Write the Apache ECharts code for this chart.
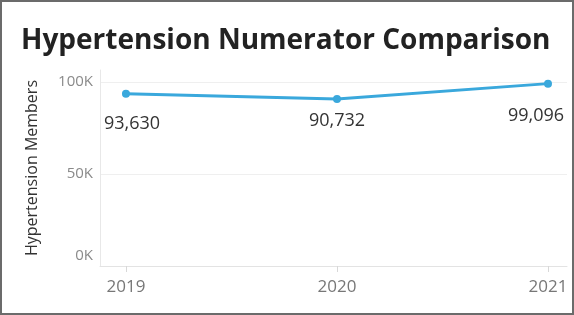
<!DOCTYPE html>
<html>
<head>
<meta charset="utf-8">
<script src="https://cdn.jsdelivr.net/npm/echarts@6/dist/echarts.min.js"></script>
<style>
  html, body { margin: 0; padding: 0; background: #fff; }
  #chart { width: 574px; height: 315px; box-sizing: border-box; border: 2px solid #6b6b6b; }
</style>
</head>
<body>
<div id="chart"></div>
<script>
// values
const years = [2019, 2020, 2021];
const members = [93630, 90732, 99096];
const yTicks = [0, 50000, 100000];

// per-point label nudges (Tableau places them a bit unevenly)
const labelNudge = [[6, 0], [0, -8], [-12, 2]];

const chart = echarts.init(document.getElementById('chart'));

const fmt = (v) => v.toLocaleString('en-US');

chart.setOption({
  animation: false,
  textStyle: { fontFamily: 'Open Sans' },
  title: {
    text: 'Hypertension Numerator Comparison',
    left: 14,
    top: 20,
    textStyle: { fontFamily: 'Open Sans', fontWeight: 'bold', fontSize: 28, color: '#222' }
  },
  grid: { left: 98, right: 5, top: 68, bottom: 47 },
  xAxis: {
    type: 'value',
    min: 2018.877,
    max: 2021.09,
    axisLine: { show: true, lineStyle: { color: '#e3e3e3' } },
    axisTick: { show: true, customValues: years, length: 6, lineStyle: { color: '#d8d8d8' } },
    axisLabel: { customValues: years, margin: 13, fontSize: 17, color: '#777', formatter: (v) => String(v) },
    splitLine: { show: false }
  },
  yAxis: {
    type: 'value',
    min: 0,
    max: 106500,
    interval: 50000,
    name: 'Hypertension Members',
    nameLocation: 'middle',
    nameGap: 60,
    nameTextStyle: { fontSize: 16, color: '#333' },
    axisLine: { show: true, lineStyle: { color: '#e8e8e8' } },
    axisTick: { show: false },
    axisLabel: {
      margin: 7,
      fontSize: 15,
      color: '#8a8a8a',
      formatter: (v) => {
        if (!yTicks.includes(v)) return '';
        return v === 0 ? '{z|0K}' : (v / 1000) + 'K';
      },
      rich: { z: { fontSize: 15, color: '#8a8a8a', padding: [0, 0, 20, 0] } }
    },
    splitLine: { show: true, showMaxLine: false, showMinLine: false, lineStyle: { color: '#efefef' } }
  },
  series: [{
    type: 'line',
    data: years.map((y, i) => ({
      value: [y, members[i]],
      label: { offset: labelNudge[i] }
    })),
    symbol: 'circle',
    symbolSize: 8,
    lineStyle: { width: 3, color: '#3aa8dc' },
    itemStyle: { color: '#3aa8dc' },
    label: {
      show: true,
      position: 'bottom',
      distance: 17,
      fontSize: 18,
      color: '#333',
      formatter: (p) => fmt(p.value[1])
    }
  }]
});
</script>
</body>
</html>
